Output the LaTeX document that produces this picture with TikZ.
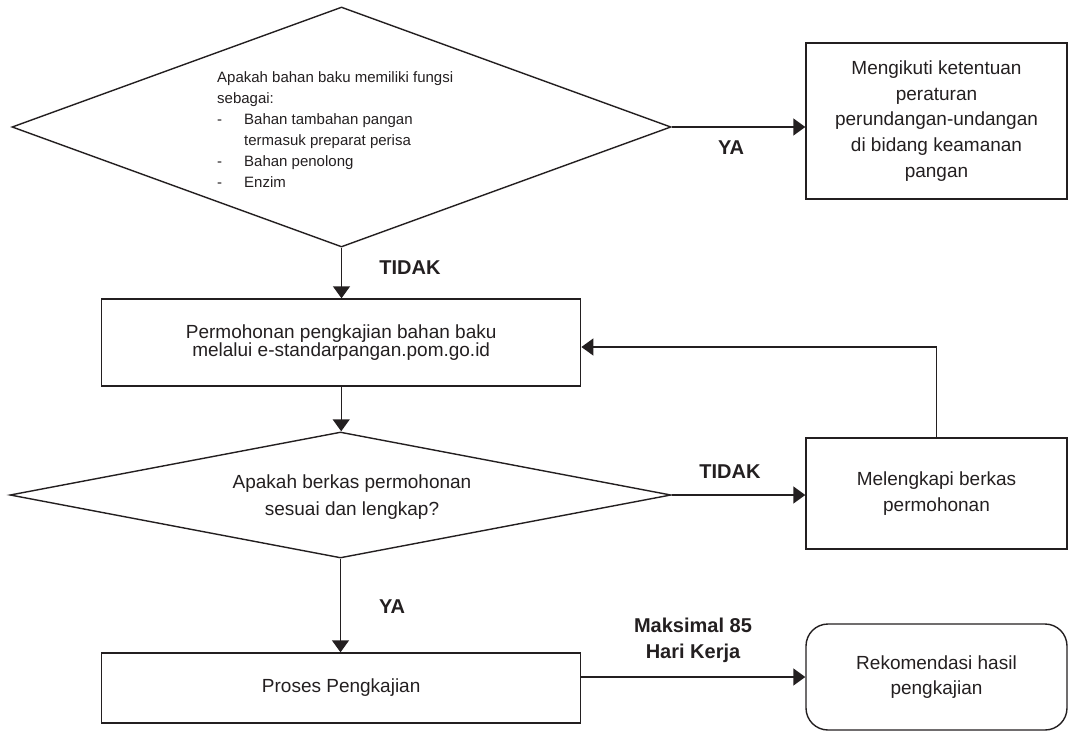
\documentclass[tikz,border=0pt]{standalone}
\usepackage{fontspec}
\setmainfont{Liberation Sans}
\usetikzlibrary{shapes.geometric,arrows.meta}
\definecolor{ink}{HTML}{231F20}
\begin{document}
\begin{tikzpicture}[x=1pt,y=-1pt,
  every node/.style={text=ink},
  line/.style={draw=ink, line width=1.4pt},
  arr/.style={line, -{Triangle[length=12pt,width=17pt]}},
  box/.style={draw=ink, line width=1.4pt, rectangle, inner sep=0pt, font=\fontsize{19}{25.7}\selectfont, align=center},
  dia/.style={draw=ink, line width=1.4pt, diamond, inner sep=0pt, shape aspect=2.7},
  lbl/.style={font=\fontsize{20}{26}\selectfont\bfseries, align=center},
]
\useasboundingbox (0,0) rectangle (1069,731);

% decision 1
\node[dia, minimum width=659pt, minimum height=240pt] (d1) at (341.5,127) {};
\node[anchor=west, align=left, inner sep=0pt, font=\fontsize{15}{21}\selectfont] (d1t) at (217,130)
  {Apakah bahan baku memiliki fungsi\\
   sebagai:\\
   \makebox[27pt][l]{-}Bahan tambahan pangan\\
   \hspace*{27pt}termasuk preparat perisa\\
   \makebox[27pt][l]{-}Bahan penolong\\
   \makebox[27pt][l]{-}Enzim};

\node[box, minimum width=261pt, minimum height=156pt] (b1) at (936.5,121)
  {Mengikuti ketentuan\\peraturan\\perundangan-undangan\\di bidang keamanan\\pangan};

\node[box, minimum width=479pt, minimum height=87pt, font=\fontsize{19}{18.5}\selectfont] (b2) at (341.2,342.5)
  {Permohonan pengkajian bahan baku\\melalui e-standarpangan.pom.go.id};

% decision 2
\node[dia, minimum width=661pt, minimum height=126pt] (d2) at (340.5,495) {};
\node[align=center, inner sep=0pt, font=\fontsize{19}{27}\selectfont] (d2t) at (352,497)
  {Apakah berkas permohonan\\sesuai dan lengkap?};

\node[box, minimum width=261pt, minimum height=111pt, font=\fontsize{19}{26.7}\selectfont] (b3) at (936.5,493.5)
  {Melengkapi berkas\\permohonan};

\node[box, minimum width=479pt, minimum height=70pt] (b4) at (341.2,688) {Proses Pengkajian};

\node[box, rounded corners=22pt, minimum width=261pt, minimum height=106pt, font=\fontsize{19}{25}\selectfont] (b5) at (936.5,677)
  {Rekomendasi hasil\\pengkajian};

\coordinate (fb) at (936.5,347);

% connectors
\draw[arr] (d1.east) -- (d1.east -| b1.west);
\draw[arr] (d1.south) -- (d1.south |- b2.north);
\draw[arr] (b2.south) -- (b2.south |- d2.north);
\draw[arr] (d2.east) -- (d2.east -| b3.west);
\draw[arr] (b3.north) -- (fb) -- (fb -| b2.east);
\draw[arr] (d2.south) -- (d2.south |- b4.north);
\draw[arr] (b4.east |- b5.west) -- (b5.west);

% labels
\node[lbl] (ya1) at (731,148) {YA};
\node[lbl] (t1) at (410,268) {TIDAK};
\node[lbl] (t2) at (730,472) {TIDAK};
\node[lbl] (ya2) at (392,607) {YA};
\node[lbl] (mx) at (693,640) {Maksimal 85\\Hari Kerja};
\end{tikzpicture}
\end{document}
